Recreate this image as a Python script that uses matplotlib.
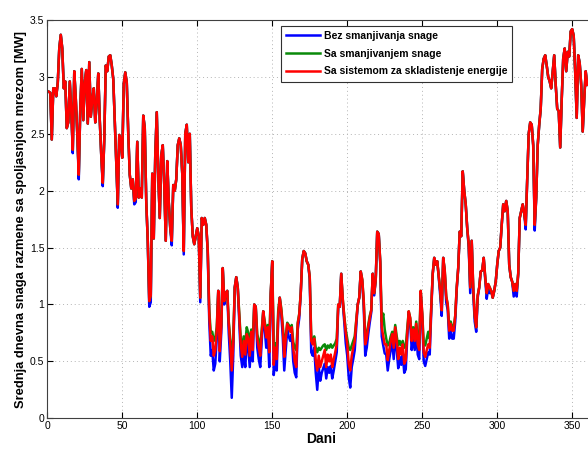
import numpy as np
import matplotlib.pyplot as plt
import matplotlib as mpl

mpl.rc('font', family='Liberation Sans')

# ---------------- data (daily mean exchange power, MW)

# Sa sistemom za skladistenje energije (red), days 1..360
red = [
    2.87, 2.86, 2.45, 2.90, 2.90, 2.83, 2.95, 3.25, 3.37, 3.25, 2.90,
    2.96, 2.55, 2.60, 2.96, 2.70, 2.36, 3.05, 2.81, 2.50, 2.14, 2.72, 3.07, 2.62, 2.95, 3.06, 2.59, 3.13, 2.65,
    2.80, 2.90, 2.60, 2.78, 3.03, 2.62, 2.31, 2.07, 2.45, 3.10, 3.05, 3.18, 3.19, 3.10, 2.98, 2.62, 2.25, 1.88, 2.49, 2.45,
    2.29, 2.94, 3.04, 2.95, 2.50, 2.14, 2.02, 2.10, 1.91, 1.93, 2.43, 1.94, 2.02, 1.94, 2.66, 2.55, 1.90, 1.56, 1.03, 1.08,
    2.15, 1.58, 2.31, 2.69, 2.14, 1.76, 2.31, 2.40, 2.05,
    1.56, 2.26, 1.90, 1.67, 1.56, 2.05, 2.00, 2.10, 2.40, 2.46, 2.40, 2.15, 1.47, 2.50, 2.58, 2.25, 2.50, 1.85, 1.60, 1.53,
    # summer part (index 98 ..)
    1.60, 1.67, 1.60, 1.06, 1.76, 1.70, 1.76, 1.70, 1.47, 0.92,
    0.68, 0.72, 0.55, 0.60, 0.77, 1.12, 0.59, 0.80, 1.32, 1.03,
    1.10, 1.12, 0.83, 0.65, 0.42, 0.65, 1.15, 1.24, 1.15,
    0.90, 0.65, 0.54, 0.68, 0.56, 0.74, 0.70, 0.55, 0.76, 0.60,
    1.00, 0.98, 0.70, 0.62, 0.55, 0.75, 0.94, 0.83, 0.71, 0.80,
    0.58, 1.10, 1.38, 0.47, 0.62, 0.52, 0.91, 1.06, 0.95, 0.80,
    0.54, 0.70, 0.83, 0.80, 0.76, 0.80, 0.62, 0.50, 0.45, 0.83,
    0.91, 1.10, 1.40, 1.47, 1.45, 1.38, 1.35, 1.24, 0.68, 0.65,
    0.70, 0.51, 0.42, 0.55, 0.45, 0.50, 0.55, 0.60, 0.45,
    0.56, 0.50, 0.56, 0.45, 0.52, 0.58, 0.65, 1.00, 0.98, 1.27,
    1.05, 0.89, 0.75, 0.65, 0.48, 0.42, 0.55, 0.62, 0.68, 0.85,
    1.00, 1.06, 1.29, 1.22, 1.03, 0.65, 0.70, 0.80, 0.88, 0.95,
    1.27, 1.10, 1.22, 1.64, 1.62, 1.38, 0.80, 0.72, 0.65, 0.65,
    0.51, 0.60, 0.68, 0.74, 0.62, 0.80, 0.68, 0.52, 0.62, 0.56,
    0.65, 0.48, 0.51, 0.75, 0.94, 0.88, 0.68, 0.78, 0.68,
    0.83, 0.65, 0.60, 1.12, 0.92, 0.58, 0.54, 0.60, 0.65, 0.62,
    0.97, 1.27, 1.41, 1.35, 1.38, 1.25, 1.12, 0.95, 1.41, 1.30,
    1.07, 1.00, 0.77, 0.83, 0.77, 0.77, 0.90, 1.15, 1.32, 1.64,
    1.60, 2.17, 2.00, 1.88, 1.67, 1.53, 1.15, 1.56, 1.15, 0.90,
    0.80, 1.08, 1.15, 1.29, 1.30, 1.41, 1.24, 1.10, 1.18, 1.15,
    # autumn / winter
    1.12, 1.06, 1.12, 1.20, 1.35, 1.47, 1.50, 1.70, 1.88,
    1.82, 1.91, 1.82, 1.35, 1.24, 1.20, 1.12, 1.18, 1.12, 1.27,
    1.76, 1.82, 1.88, 1.80, 1.70, 2.10, 2.50, 2.60, 2.58, 2.40,
    1.70, 1.94, 2.40, 2.58, 2.72, 3.07, 3.16, 3.19, 3.10, 3.00,
    2.96, 2.90, 3.05, 3.19, 2.93, 2.72, 2.70, 2.38, 2.80, 3.16,
    3.25, 3.05, 3.22, 3.18, 3.40, 3.42, 3.36, 3.04, 2.64, 3.19,
    3.12, 2.93, 2.52, 2.80, 3.05, 2.93,
]

summer_start = 98  # index of first summer value

# Bez smanjivanja snage (blue) in summer, otherwise same as red except dips
blue_summer = [
    1.60, 1.67, 1.60, 1.02, 1.76, 1.70, 1.76, 1.70, 1.45, 0.85,
    0.55, 0.60, 0.42, 0.48, 0.70, 1.12, 0.50, 0.75, 1.32, 1.00,
    1.10, 1.12, 0.75, 0.50, 0.18, 0.55, 1.15, 1.24, 1.15,
    0.85, 0.55, 0.45, 0.58, 0.45, 0.68, 0.62, 0.45, 0.70, 0.50,
    1.00, 0.98, 0.62, 0.52, 0.45, 0.68, 0.94, 0.78, 0.62, 0.75,
    0.45, 1.08, 1.38, 0.38, 0.52, 0.42, 0.88, 1.06, 0.92, 0.72,
    0.42, 0.60, 0.78, 0.72, 0.68, 0.74, 0.50, 0.40, 0.36, 0.78,
    0.88, 1.10, 1.40, 1.47, 1.45, 1.38, 1.35, 1.22, 0.58, 0.55,
    0.62, 0.40, 0.25, 0.45, 0.33, 0.40, 0.44, 0.48, 0.35,
    0.45, 0.40, 0.46, 0.35, 0.42, 0.50, 0.58, 0.98, 0.98, 1.27,
    1.02, 0.85, 0.66, 0.55, 0.36, 0.27, 0.45, 0.52, 0.60, 0.80,
    1.00, 1.06, 1.29, 1.20, 0.98, 0.55, 0.62, 0.74, 0.84, 0.93,
    1.27, 1.08, 1.22, 1.64, 1.62, 1.36, 0.72, 0.64, 0.57, 0.56,
    0.42, 0.52, 0.60, 0.68, 0.52, 0.74, 0.60, 0.44, 0.54, 0.47,
    0.57, 0.40, 0.43, 0.70, 0.92, 0.84, 0.60, 0.72, 0.60,
    0.78, 0.56, 0.52, 1.10, 0.88, 0.50, 0.46, 0.52, 0.58, 0.56,
    0.93, 1.27, 1.41, 1.35, 1.38, 1.24, 1.08, 0.90, 1.41, 1.28,
    1.02, 0.95, 0.70, 0.78, 0.70, 0.70, 0.85, 1.13, 1.32, 1.64,
    1.60, 2.17, 2.00, 1.88, 1.67, 1.50, 1.10, 1.56, 1.10, 0.85,
    0.76, 1.06, 1.15, 1.29, 1.30, 1.41, 1.22, 1.05, 1.15, 1.10,
]
blue_dip_days = [17, 21, 37, 47, 58, 59, 68, 69, 83, 91, 311, 313, 319, 325]
blue_dip_vals = [2.33, 2.10, 2.04, 1.85, 1.88, 1.90, 0.98, 1.02, 1.52, 1.44, 1.07, 1.07, 1.66, 1.65]

# Sa smanjivanjem snage (green) in summer
green_summer = [
    1.60, 1.67, 1.60, 1.06, 1.76, 1.70, 1.76, 1.70, 1.47, 0.95,
    0.75, 0.76, 0.68, 0.70, 0.80, 1.12, 0.68, 0.82, 1.32, 1.03,
    1.10, 1.12, 0.85, 0.70, 0.55, 0.70, 1.15, 1.24, 1.15,
    0.92, 0.70, 0.65, 0.72, 0.65, 0.80, 0.75, 0.66, 0.78, 0.68,
    1.00, 0.98, 0.74, 0.68, 0.64, 0.78, 0.94, 0.85, 0.75, 0.82,
    0.66, 1.10, 1.38, 0.62, 0.66, 0.63, 0.95, 1.06, 0.97, 0.82,
    0.64, 0.72, 0.84, 0.82, 0.78, 0.82, 0.67, 0.62, 0.60, 0.84,
    0.92, 1.10, 1.40, 1.47, 1.45, 1.38, 1.35, 1.24, 0.72, 0.68,
    0.72, 0.62, 0.58, 0.62, 0.60, 0.62, 0.64, 0.65, 0.60,
    0.64, 0.62, 0.65, 0.62, 0.64, 0.66, 0.70, 1.00, 0.98, 1.27,
    1.05, 0.90, 0.78, 0.70, 0.62, 0.60, 0.64, 0.68, 0.72, 0.86,
    1.00, 1.06, 1.29, 1.22, 1.03, 0.70, 0.74, 0.82, 0.90, 0.95,
    1.27, 1.10, 1.22, 1.64, 1.62, 1.38, 0.85, 0.92, 0.78, 0.70,
    0.64, 0.66, 0.72, 0.76, 0.68, 0.82, 0.72, 0.64, 0.68, 0.64,
    0.68, 0.62, 0.63, 0.78, 0.94, 0.88, 0.72, 0.80, 0.72,
    0.85, 0.70, 0.66, 1.12, 0.92, 0.66, 0.64, 0.70, 0.76, 0.70,
    0.97, 1.27, 1.41, 1.35, 1.38, 1.25, 1.12, 0.95, 1.41, 1.30,
    1.07, 1.00, 0.80, 0.85, 0.80, 0.80, 0.90, 1.15, 1.32, 1.64,
]

labels = ['Bez smanjivanja snage', 'Sa smanjivanjem snage',
          'Sa sistemom za skladistenje energije']

# ---------------- build series

red = np.array(red)
days = np.arange(1, len(red) + 1)

blue = red.copy()
blue[summer_start:summer_start + len(blue_summer)] = blue_summer
for d, v in zip(blue_dip_days, blue_dip_vals):
    blue[d - 1] = v

green = red.copy()
green[summer_start:summer_start + len(green_summer)] = green_summer

# ---------------- plot

fig = plt.figure(figsize=(5.88, 4.49), dpi=100)
ax = fig.add_axes([0.0804, 0.0684, 0.931, 0.887])

ax.plot(days, blue, color='#0000ff', lw=1.8, label=labels[0])
ax.plot(days, green, color='#0a8a0a', lw=1.8, label=labels[1])
ax.plot(days, red, color='#ff0000', lw=1.8, label=labels[2])

ax.set_xlim(0, 365)
ax.set_ylim(0, 3.5)
ax.set_xticks(range(0, 351, 50))
ax.set_yticks(np.arange(0, 3.51, 0.5))
ax.set_yticklabels(['0', '0.5', '1', '1.5', '2', '2.5', '3', '3.5'])
ax.tick_params(direction='in', top=True, right=True, length=4, width=0.8,
               labelsize=7.5, pad=2)
ax.grid(True, linestyle=(0, (1, 3)), color='#b4b4b4', linewidth=0.7)
for s in ax.spines.values():
    s.set_color('#404040')
    s.set_linewidth(0.8)

ax.set_xlabel('Dani', fontsize=10, fontweight='bold', labelpad=1)
ax.set_ylabel('Srednja dnevna snaga razmene sa spoljasnjom mrezom [MW]',
              fontsize=9.3, fontweight='bold', labelpad=2)

leg = ax.legend(loc='upper left', bbox_to_anchor=(0.427, 0.986), borderaxespad=0,
                fancybox=False, framealpha=1, edgecolor='#303030',
                prop={'size': 7.5, 'weight': 'bold'}, handlelength=3.2,
                handletextpad=0.4, labelspacing=0.75, borderpad=0.5)
leg.get_frame().set_linewidth(0.8)

fig.savefig('out.png', dpi=100)
